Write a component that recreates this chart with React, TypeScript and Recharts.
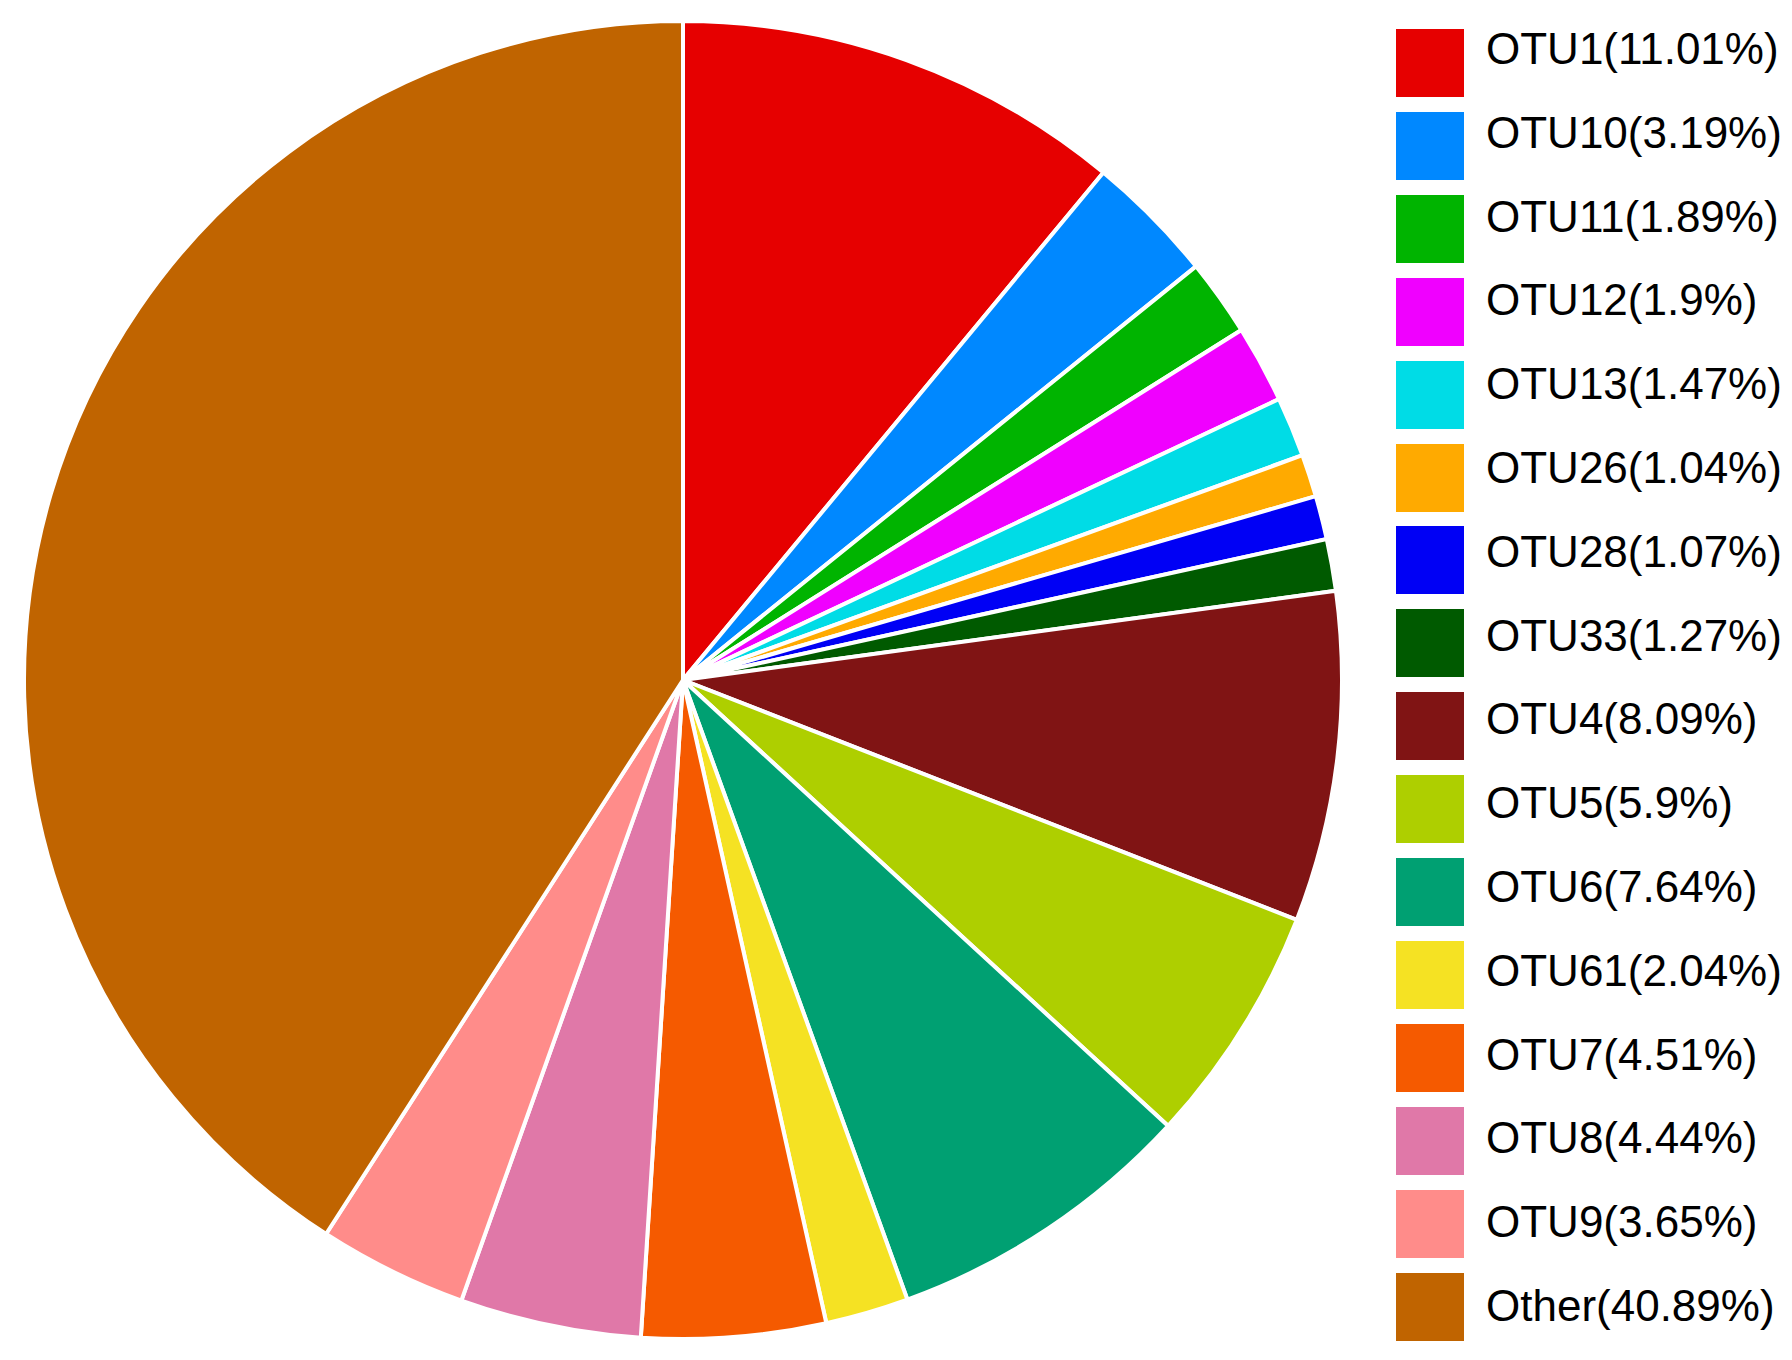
import { Cell, Legend, Pie, PieChart } from "recharts";

const NAMES = [
  "OTU1",
  "OTU10",
  "OTU11",
  "OTU12",
  "OTU13",
  "OTU26",
  "OTU28",
  "OTU33",
  "OTU4",
  "OTU5",
  "OTU6",
  "OTU61",
  "OTU7",
  "OTU8",
  "OTU9",
  "Other",
];

const PERCENTS = [
  11.01, 3.19, 1.89, 1.9, 1.47, 1.04, 1.07, 1.27, 8.09, 5.9, 7.64, 2.04, 4.51, 4.44, 3.65,
  40.89,
];

const COLORS = [
  "#e60000",
  "#0088ff",
  "#00b400",
  "#f000ff",
  "#00dce6",
  "#ffaa00",
  "#0000f5",
  "#005a00",
  "#801414",
  "#aecf00",
  "#00a072",
  "#f5e223",
  "#f55a00",
  "#e078a8",
  "#ff8c8a",
  "#c06400",
];

const data = NAMES.map((name, i) => ({ name, value: PERCENTS[i] }));

const FONT = '"Liberation Sans", Arial, sans-serif';

function LegendList() {
  return (
    <div style={{ position: "relative", width: 396, height: 1340 }}>
      {data.map((d, i) => (
        <div key={d.name}>
          <div
            style={{
              position: "absolute",
              left: 0,
              top: i * 82.9,
              width: 68,
              height: 68,
              backgroundColor: COLORS[i],
            }}
          />
          <div
            style={{
              position: "absolute",
              left: 90,
              top: 20 + i * 83.8 - 25,
              height: 50,
              lineHeight: "50px",
              fontSize: 44,
              fontFamily: FONT,
              color: "#000",
              whiteSpace: "nowrap",
            }}
          >
            {`${d.name}(${d.value}%)`}
          </div>
        </div>
      ))}
    </div>
  );
}

export default function App() {
  return (
    <div style={{ position: "absolute", left: 0, top: 0, background: "#fff" }}>
      <PieChart width={1792} height={1360} margin={{ top: 0, right: 0, bottom: 0, left: 0 }}>
        <Pie
          data={data}
          dataKey="value"
          nameKey="name"
          cx={683}
          cy={680}
          outerRadius={659}
          startAngle={90}
          endAngle={-270}
          stroke="#fff"
          strokeWidth={4}
          isAnimationActive={false}
        >
          {data.map((d, i) => (
            <Cell key={d.name} fill={COLORS[i]} />
          ))}
        </Pie>
        <Legend
          layout="vertical"
          align="right"
          verticalAlign="top"
          content={() => <LegendList />}
          wrapperStyle={{ position: "absolute", left: 1396, top: 29, width: 396, margin: 0 }}
        />
      </PieChart>
    </div>
  );
}
